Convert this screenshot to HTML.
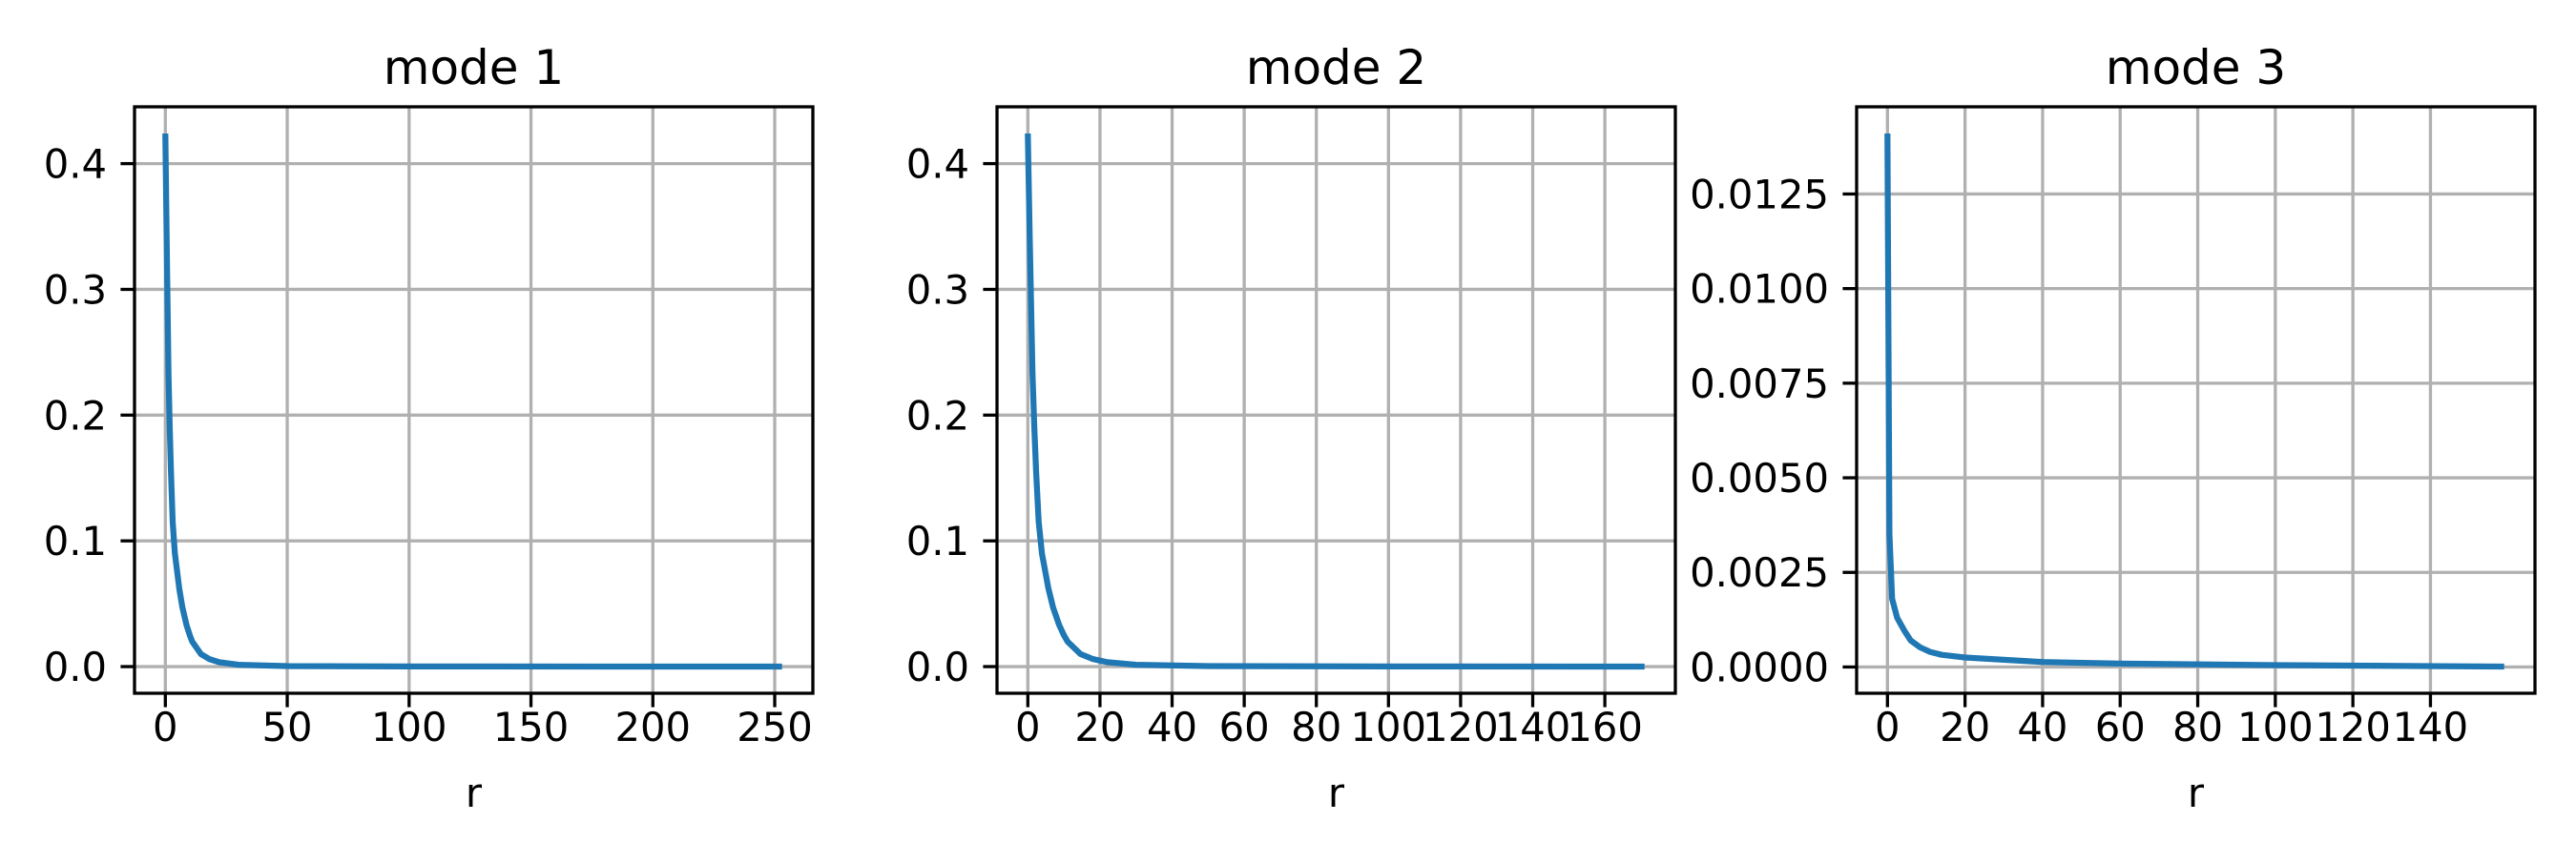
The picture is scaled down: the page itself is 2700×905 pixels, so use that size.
<!DOCTYPE html>
<html><head><meta charset="utf-8"><style>
html,body{margin:0;padding:0;background:#fff;}
svg text{font-family:"DejaVu Sans","Liberation Sans",sans-serif;fill:#000;}
</style></head><body>
<svg id="fig" width="2700" height="900" xmlns="http://www.w3.org/2000/svg"></svg>
<script>
const titles = ["mode 1","mode 2","mode 3"];
const r1 = [0,0.5,1.3,1.8,2.3,3,3.9,5.7,7,8.7,10,11,14.6,18,22,30,50,100,253];
const v1 = [0.424,0.345,0.233,0.19,0.155,0.115,0.09,0.062,0.047,0.033,0.025,0.02,0.01,0.006,0.0035,0.0015,0.0004,0.0001,0];
const r2 = [0,0.5,1.3,1.8,2.3,3,3.9,5.7,7,8.7,10,11,14.6,18,22,30,50,100,171];
const v2 = [0.424,0.345,0.233,0.19,0.155,0.115,0.09,0.062,0.047,0.033,0.025,0.02,0.01,0.006,0.0035,0.0015,0.0004,0.0001,0];
const r3 = [0,0.5,1.2,2.5,4.4,6,8.4,11,14,20,40,60,100,159];
const v3 = [0.0141,0.0035,0.0018,0.0013,0.00095,0.0007,0.00052,0.0004,0.00032,0.00025,0.00013,0.00009,0.00005,0.00001];
const xt1 = [0,50,100,150,200,250];
const xt2 = [0,20,40,60,80,100,120,140,160];
const xt3 = [0,20,40,60,80,100,120,140];
const yt1 = [0,0.1,0.2,0.3,0.4];
const yt2 = [0,0.1,0.2,0.3,0.4];
const yt3 = [0,0.0025,0.005,0.0075,0.01,0.0125];
const ytl3 = ["0.0000","0.0025","0.0050","0.0075","0.0100","0.0125"];

const NS="http://www.w3.org/2000/svg";
const svg=document.getElementById('fig');
function mk(tag,attrs,parent){const e=document.createElementNS(NS,tag);for(const k in attrs)e.setAttribute(k,attrs[k]);(parent||svg).appendChild(e);return e;}

const panels=[
 {left:141,r:r1,v:v1,xt:xt1,yt:yt1,ytl:yt1.map(String).map(s=>s==="0"?"0.0":s)},
 {left:1045,r:r2,v:v2,xt:xt2,yt:yt2,ytl:yt2.map(String).map(s=>s==="0"?"0.0":s)},
 {left:1946,r:r3,v:v3,xt:xt3,yt:yt3,ytl:ytl3}
];
const axTop=112,axBottom=727,W=711;
panels.forEach((p,i)=>{
  const g=mk('g',{});
  
  
  const xmax=Math.max(...p.r), xmin=Math.min(...p.r);
  const ymax=Math.max(...p.v), ymin=Math.min(...p.v);
  const xr=xmax-xmin, yr=ymax-ymin;
  const x0=xmin-0.05*xr, x1=xmax+0.05*xr, y0=ymin-0.05*yr, y1=ymax+0.05*yr;
  const X=x=>p.left+(x-x0)/(x1-x0)*W;
  const Y=y=>axBottom-(y-y0)/(y1-y0)*(axBottom-axTop);
  p.xt.forEach(t=>{
    const l=mk('line',{x1:X(t),x2:X(t),y1:axTop,y2:axBottom,stroke:'#b0b0b0','stroke-width':3.3},g);
    
    
  });
  p.yt.forEach(t=>{
    const l=mk('line',{x1:p.left,x2:p.left+W,y1:Y(t),y2:Y(t),stroke:'#b0b0b0','stroke-width':3.3},g);
    
    
  });
  const pts=p.r.map((r,k)=>X(r).toFixed(1)+','+Y(p.v[k]).toFixed(1)).join(' ');
  const pl=mk('polyline',{points:pts,fill:'none',stroke:'#1f77b4','stroke-width':6.25,'stroke-linejoin':'round'},g);
  
  
  const fr=mk('rect',{x:p.left,y:axTop,width:W,height:axBottom-axTop,fill:'none',stroke:'#000','stroke-width':3.3},g);
  
  
  p.xt.forEach(t=>{
    mk('line',{x1:X(t),x2:X(t),y1:axBottom,y2:axBottom+14.6,stroke:'#000','stroke-width':3.3},g);
    const tx=mk('text',{x:X(t),y:axBottom+50,'text-anchor':'middle','font-size':41.7},g);
    tx.textContent=String(t);
    
    
  });
  p.yt.forEach((t,k)=>{
    mk('line',{x1:p.left-14.6,x2:p.left,y1:Y(t),y2:Y(t),stroke:'#000','stroke-width':3.3},g);
    const tx=mk('text',{x:p.left-29,y:Y(t)+15,'text-anchor':'end','font-size':41.7},g);
    tx.textContent=p.ytl[k];
    
    
  });
  const tt=mk('text',{x:p.left+W/2,y:88,'text-anchor':'middle','font-size':50},g);
  tt.textContent=titles[i];
  
  
  const xl=mk('text',{x:p.left+W/2,y:846,'text-anchor':'middle','font-size':41.7},g);
  xl.textContent='r';
  
  
});
</script>
</body></html>
